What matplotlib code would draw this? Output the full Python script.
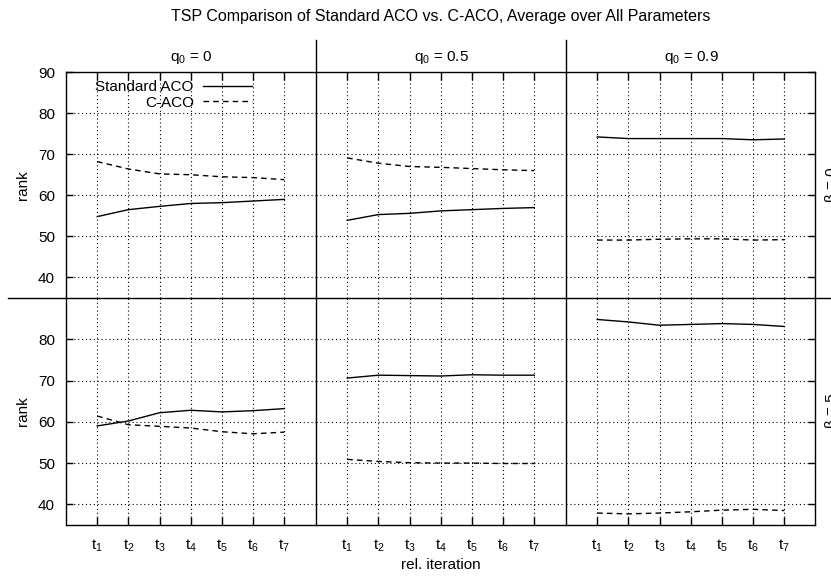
import matplotlib
matplotlib.use("Agg")
import matplotlib.pyplot as plt
from matplotlib.lines import Line2D

plt.rcParams["font.family"] = ["Liberation Sans", "DejaVu Sans"]
plt.rcParams["mathtext.fontset"] = "custom"
plt.rcParams["mathtext.rm"] = "Liberation Sans"
plt.rcParams["mathtext.it"] = "Liberation Sans"

# iterations t1..t7
iterations = [1, 2, 3, 4, 5, 6, 7]
tick_labels = [r"$\mathregular{t_%d}$" % i for i in iterations]
q0_labels = [r"$\mathregular{q_0}$ = 0", r"$\mathregular{q_0}$ = 0.5", r"$\mathregular{q_0}$ = 0.9"]
beta_labels = ["β = 0", "β = 5"]

# beta = 0 row
std_b0_q0 = [54.8, 56.5, 57.3, 58.0, 58.2, 58.6, 59.0]
cac_b0_q0 = [68.2, 66.4, 65.2, 65.0, 64.5, 64.3, 63.8]
std_b0_q05 = [53.9, 55.3, 55.6, 56.2, 56.5, 56.8, 57.0]
cac_b0_q05 = [69.1, 67.8, 67.0, 66.8, 66.5, 66.2, 66.0]
std_b0_q09 = [74.2, 73.8, 73.8, 73.8, 73.8, 73.5, 73.7]
cac_b0_q09 = [49.1, 49.1, 49.3, 49.4, 49.4, 49.1, 49.2]

# beta = 5 row
std_b5_q0 = [59.0, 60.2, 62.2, 62.8, 62.4, 62.7, 63.2]
cac_b5_q0 = [61.4, 59.3, 58.9, 58.5, 57.6, 57.1, 57.5]
std_b5_q05 = [70.6, 71.3, 71.2, 71.1, 71.4, 71.3, 71.3]
cac_b5_q05 = [50.9, 50.4, 50.1, 50.0, 50.0, 49.9, 49.9]
std_b5_q09 = [84.8, 84.2, 83.4, 83.6, 83.8, 83.6, 83.1]
cac_b5_q09 = [37.9, 37.7, 37.9, 38.2, 38.6, 38.8, 38.5]

standard = [[std_b0_q0, std_b0_q05, std_b0_q09],
            [std_b5_q0, std_b5_q05, std_b5_q09]]
caco = [[cac_b0_q0, cac_b0_q05, cac_b0_q09],
        [cac_b5_q0, cac_b5_q05, cac_b5_q09]]

W, H = 831, 578
fig = plt.figure(figsize=(W / 100, H / 100), dpi=100)


def fx(px):
    return px / W


def fy(py):
    return 1 - py / H


col_left = [66, 316, 566]
col_w = 249.5
row_top = [72, 298]
row_bot = [298, 525]
fs = 11

for r in range(2):
    for c in range(3):
        ax = fig.add_axes([fx(col_left[c]), fy(row_bot[r]),
                           fx(col_w), (row_bot[r] - row_top[r]) / H])
        ax.set_xlim(0, 8)
        ax.set_ylim(35, 90)
        for s in ax.spines.values():
            s.set_visible(False)
        ax.plot(iterations, standard[r][c], color="black", lw=1.0,
                label="Standard ACO")
        ax.plot(iterations, caco[r][c], color="black", lw=1.0,
                dashes=(4, 3), label="C-ACO")
        ax.set_xticks(iterations)
        yt = [40, 50, 60, 70, 80, 90] if r == 0 else [40, 50, 60, 70, 80]
        ax.set_yticks(yt)
        ax.grid(True, color="black", lw=0.8, linestyle=(0, (1, 2.5)))
        ax.tick_params(direction="in", length=6, width=1, labelsize=fs,
                       colors="black")
        if r == 0:
            ax.tick_params(axis="x", top=True, bottom=False,
                           labeltop=False, labelbottom=False)
        else:
            ax.tick_params(axis="x", top=False, bottom=True,
                           labelbottom=True, pad=9)
            ax.set_xticklabels(tick_labels)
        ax.tick_params(axis="y", left=(c == 0), right=(c == 2),
                       labelleft=(c == 0), labelright=False, length=5,
                       pad=8)
        if c == 0:
            ax.set_ylabel("rank", fontsize=fs, labelpad=6)
        if r == 0 and c == 0:
            ax.legend(loc="upper right", bbox_to_anchor=(0.745, 0.965),
                      markerfirst=False, frameon=False, fontsize=fs,
                      handlelength=3.2, handletextpad=0.6,
                      labelspacing=0.12, borderaxespad=0.0,
                      borderpad=0.0)
        if r == 1 and c == 1:
            ax.set_xlabel("rel. iteration", fontsize=fs, labelpad=3)

# frame and panel dividers
lines = [
    ((66, 815), (72, 72)),
    ((66, 815), (525, 525)),
    ((66, 66), (72, 525)),
    ((815, 815), (72, 525)),
    ((316, 316), (40, 525)),
    ((566, 566), (40, 525)),
    ((8, 831), (298, 298)),
]
for (x0, x1), (y0, y1) in lines:
    fig.add_artist(Line2D([fx(x0), fx(x1)], [fy(y0), fy(y1)],
                          color="black", lw=1.0))

for c in range(3):
    fig.text(fx(col_left[c] + 125), fy(57), q0_labels[c], ha="center",
             va="center", fontsize=fs)

for r, yc in enumerate([185, 411]):
    fig.text(fx(825), fy(yc), beta_labels[r], rotation=90, ha="left",
             va="center", fontsize=fs)

fig.text(fx(441), fy(17), "TSP Comparison of Standard ACO vs. C-ACO, Average over All Parameters",
         ha="center", va="center", fontsize=11.5)

fig.savefig("out.png", dpi=100)
